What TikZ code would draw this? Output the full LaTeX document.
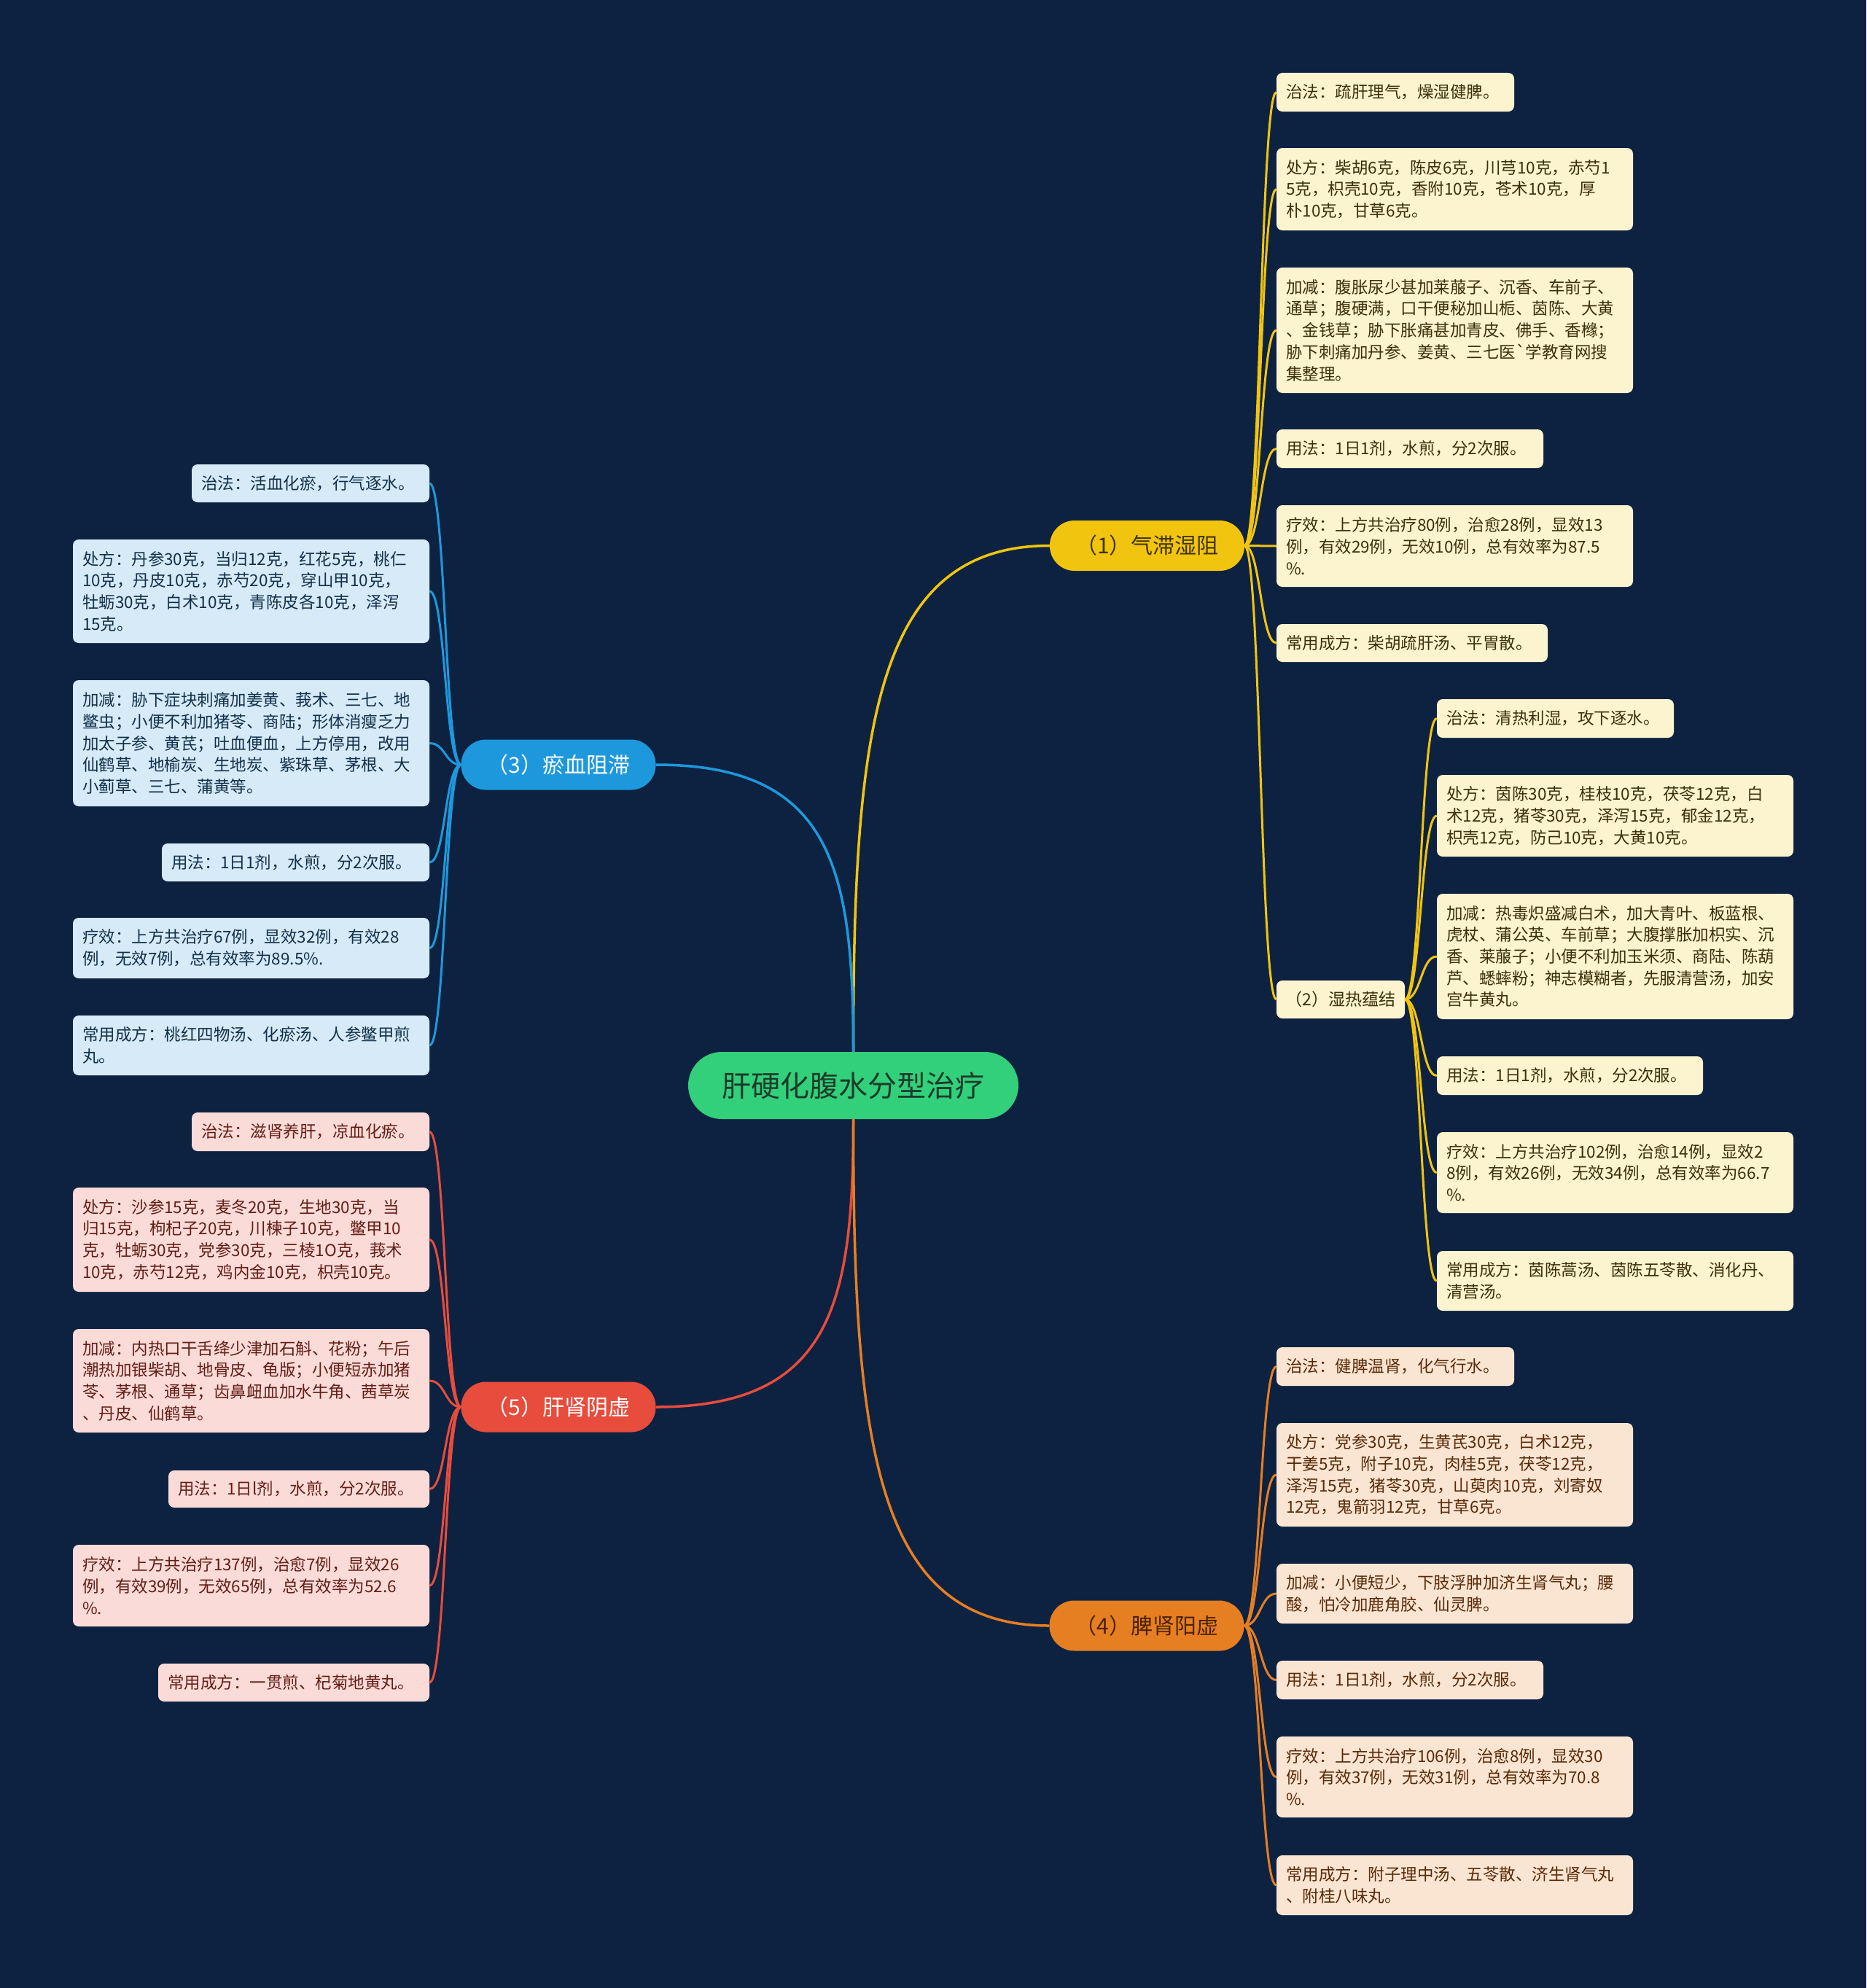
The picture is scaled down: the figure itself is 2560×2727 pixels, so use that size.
\documentclass[tikz,border=0pt]{standalone}
\usepackage{fontspec}
\usetikzlibrary{calc}
\newfontfamily\cjk{Noto Sans CJK SC}
\definecolor{bg}{HTML}{0D2240}
\definecolor{cRoot}{HTML}{32D07B}
\definecolor{cY}{HTML}{F1C40F}
\definecolor{cB}{HTML}{1E98DD}
\definecolor{cR}{HTML}{E74C3C}
\definecolor{cO}{HTML}{E67E22}
\definecolor{lY}{HTML}{FCF3CF}
\definecolor{lB}{HTML}{D6EAF8}
\definecolor{lR}{HTML}{FADBD8}
\definecolor{lO}{HTML}{FAE5D3}
\definecolor{tY}{HTML}{3B3008}
\definecolor{tB}{HTML}{12304A}
\definecolor{tR}{HTML}{641E16}
\definecolor{tO}{HTML}{5A2A08}
\definecolor{tRoot}{HTML}{1D3B2A}
\definecolor{tYb}{HTML}{3F3300}
\definecolor{tOb}{HTML}{4A2300}
\tikzset{
  leafbase/.style={rectangle, rounded corners=8pt, inner xsep=13pt, inner ysep=0pt, align=left, font=\cjk\fontsize{22.5}{29.7}\selectfont},
  leafY/.style={leafbase, fill=lY, text=tY},
  leafB/.style={leafbase, fill=lB, text=tB},
  leafR/.style={leafbase, fill=lR, text=tR},
  leafO/.style={leafbase, fill=lO, text=tO},
  branchbox/.style={rectangle, rounded corners=34pt, minimum width=267pt, minimum height=69pt, inner sep=0pt, font=\cjk\fontsize{30}{36}\selectfont},
  rootbox/.style={rectangle, rounded corners=46pt, minimum width=453pt, minimum height=92pt, inner sep=0pt, fill=cRoot, text=tRoot, font=\cjk\fontsize{40}{46}\selectfont},
  leaflink/.style={line width=3pt},
  rootlink/.style={line width=3.5pt},
}
\newcommand\leafnode[7]{%
  \pgfmathsetmacro\lfw{#5-#3}%
  \pgfmathsetmacro\lfh{#6-#4}%
  \pgfmathsetmacro\lft{#5-#3-26}%
  \pgfmathsetmacro\lfx{(#3+#5)/2}%
  \pgfmathsetmacro\lfy{(#4+#6)/2}%
  \node[#2,minimum width=\lfw pt,minimum height=\lfh pt,text width=\lft pt] (#1) at (\lfx,\lfy) {#7};}
\newcommand\linkR[3]{\draw[leaflink,#1] (#2.east) .. controls ($(#2.east)+(22,0)$) and ($(#3.west)+(-22,0)$) .. (#3.west);}
\newcommand\linkL[3]{\draw[leaflink,#1] (#2.west) .. controls ($(#2.west)+(-22,0)$) and ($(#3.east)+(22,0)$) .. (#3.east);}
\begin{document}
\begin{tikzpicture}[x=1pt,y=-1pt]
\useasboundingbox (0,0) rectangle (2560,2727);
\fill[bg] (0,0) rectangle (2560,2727);

% root and main branches
\node[rootbox] (root) at (1170.5,1489) {肝硬化腹水分型治疗};
\node[branchbox, fill=cY, text=tYb] (b1) at (1573.5,748.5) {（1）气滞湿阻};
\node[branchbox, fill=cB, text=white] (b3) at (766,1049) {（3）瘀血阻滞};
\node[branchbox, fill=cR, text=white] (b5) at (766,1930) {（5）肝肾阴虚};
\node[branchbox, fill=cO, text=tOb] (b4) at (1573,2230) {（4）脾肾阳虚};
\node[leafY, align=center, inner xsep=0pt, minimum width=176pt, minimum height=52pt, font=\cjk\fontsize{23}{28}\selectfont] (b2) at (1839,1371) {（2）湿热蕴结};

% (1) leaves
\leafnode{a1}{leafY}{1751}{100}{2077}{153}{治法：疏肝理气，燥湿健脾。}
\leafnode{a2}{leafY}{1751}{203}{2240}{316}{处方：柴胡6克，陈皮6克，川芎10克，赤芍1\\5克，枳壳10克，香附10克，苍术10克，厚\\朴10克，甘草6克。}
\leafnode{a3}{leafY}{1751}{367}{2240}{539}{加减：腹胀尿少甚加莱菔子、沉香、车前子、\\通草；腹硬满，口干便秘加山栀、茵陈、大黄\\、金钱草；胁下胀痛甚加青皮、佛手、香橼；\\胁下刺痛加丹参、姜黄、三七医`学教育网搜\\集整理。}
\leafnode{a4}{leafY}{1751}{589}{2117}{642}{用法：1日1剂，水煎，分2次服。}
\leafnode{a5}{leafY}{1751}{693}{2240}{805}{疗效：上方共治疗80例，治愈28例，显效13\\例，有效29例，无效10例，总有效率为87.5\\\%.}
\leafnode{a6}{leafY}{1751}{856}{2123}{908}{常用成方：柴胡疏肝汤、平胃散。}

% (2) leaves
\leafnode{c1}{leafY}{1971}{959}{2296}{1012}{治法：清热利湿，攻下逐水。}
\leafnode{c2}{leafY}{1971}{1063}{2460}{1175}{处方：茵陈30克，桂枝10克，茯苓12克，白\\术12克，猪苓30克，泽泻15克，郁金12克，\\枳壳12克，防己10克，大黄10克。}
\leafnode{c3}{leafY}{1971}{1226}{2460}{1398}{加减：热毒炽盛减白术，加大青叶、板蓝根、\\虎杖、蒲公英、车前草；大腹撑胀加枳实、沉\\香、莱菔子；小便不利加玉米须、商陆、陈葫\\芦、蟋蟀粉；神志模糊者，先服清营汤，加安\\宫牛黄丸。}
\leafnode{c4}{leafY}{1971}{1449}{2336}{1502}{用法：1日1剂，水煎，分2次服。}
\leafnode{c5}{leafY}{1971}{1553}{2460}{1664}{疗效：上方共治疗102例，治愈14例，显效2\\8例，有效26例，无效34例，总有效率为66.7\\\%.}
\leafnode{c6}{leafY}{1971}{1716}{2460}{1798}{常用成方：茵陈蒿汤、茵陈五苓散、消化丹、\\清营汤。}

% (4) leaves
\leafnode{d1}{leafO}{1751}{1848}{2077}{1901}{治法：健脾温肾，化气行水。}
\leafnode{d2}{leafO}{1751}{1952}{2240}{2094}{处方：党参30克，生黄芪30克，白术12克，\\干姜5克，附子10克，肉桂5克，茯苓12克，\\泽泻15克，猪苓30克，山萸肉10克，刘寄奴\\12克，鬼箭羽12克，甘草6克。}
\leafnode{d3}{leafO}{1751}{2145}{2240}{2227}{加减：小便短少，下肢浮肿加济生肾气丸；腰\\酸，怕冷加鹿角胶、仙灵脾。}
\leafnode{d4}{leafO}{1751}{2278}{2117}{2331}{用法：1日1剂，水煎，分2次服。}
\leafnode{d5}{leafO}{1751}{2382}{2240}{2493}{疗效：上方共治疗106例，治愈8例，显效30\\例，有效37例，无效31例，总有效率为70.8\\\%.}
\leafnode{d6}{leafO}{1751}{2545}{2240}{2627}{常用成方：附子理中汤、五苓散、济生肾气丸\\、附桂八味丸。}

% (3) leaves
\leafnode{e1}{leafB}{263}{637}{589}{689}{治法：活血化瘀，行气逐水。}
\leafnode{e2}{leafB}{100}{740}{589}{882}{处方：丹参30克，当归12克，红花5克，桃仁\\10克，丹皮10克，赤芍20克，穿山甲10克，\\牡蛎30克，白术10克，青陈皮各10克，泽泻\\15克。}
\leafnode{e3}{leafB}{100}{933}{589}{1106}{加减：胁下症块刺痛加姜黄、莪术、三七、地\\鳖虫；小便不利加猪苓、商陆；形体消瘦乏力\\加太子参、黄芪；吐血便血，上方停用，改用\\仙鹤草、地榆炭、生地炭、紫珠草、茅根、大\\小蓟草、三七、蒲黄等。}
\leafnode{e4}{leafB}{222}{1157}{589}{1209}{用法：1日1剂，水煎，分2次服。}
\leafnode{e5}{leafB}{100}{1259}{589}{1342}{疗效：上方共治疗67例，显效32例，有效28\\例，无效7例，总有效率为89.5\%.}
\leafnode{e6}{leafB}{100}{1393}{589}{1475}{常用成方：桃红四物汤、化瘀汤、人参鳖甲煎\\丸。}

% (5) leaves
\leafnode{f1}{leafR}{263}{1526}{589}{1579}{治法：滋肾养肝，凉血化瘀。}
\leafnode{f2}{leafR}{100}{1629}{589}{1772}{处方：沙参15克，麦冬20克，生地30克，当\\归15克，枸杞子20克，川楝子10克，鳖甲10\\克，牡蛎30克，党参30克，三棱1O克，莪术\\10克，赤芍12克，鸡内金10克，枳壳10克。}
\leafnode{f3}{leafR}{100}{1823}{589}{1965}{加减：内热口干舌绛少津加石斛、花粉；午后\\潮热加银柴胡、地骨皮、龟版；小便短赤加猪\\苓、茅根、通草；齿鼻衄血加水牛角、茜草炭\\、丹皮、仙鹤草。}
\leafnode{f4}{leafR}{231}{2017}{589}{2068}{用法：1日l剂，水煎，分2次服。}
\leafnode{f5}{leafR}{100}{2119}{589}{2231}{疗效：上方共治疗137例，治愈7例，显效26\\例，有效39例，无效65例，总有效率为52.6\\\%.}
\leafnode{f6}{leafR}{217}{2282}{589}{2334}{常用成方：一贯煎、杞菊地黄丸。}

% root connectors
\draw[rootlink,cY] (root.north) .. controls ($(root.north)+(0,-444)$) and ($(b1.west)+(-240,0)$) .. (b1.west);
\draw[rootlink,cB] (root.north) .. controls ($(root.north)+(0,-252)$) and ($(b3.east)+(241,0)$) .. (b3.east);
\draw[rootlink,cR] (root.south) .. controls ($(root.south)+(0,253)$) and ($(b5.east)+(241,0)$) .. (b5.east);
\draw[rootlink,cO] (root.south) .. controls ($(root.south)+(0,445)$) and ($(b4.west)+(-240,0)$) .. (b4.west);

% branch connectors
\foreach \n in {a1,a2,a3,a4,a5,a6,b2}{\linkR{cY}{b1}{\n}}
\foreach \n in {c1,c2,c3,c4,c5,c6}{\linkR{cY}{b2}{\n}}
\foreach \n in {d1,d2,d3,d4,d5,d6}{\linkR{cO}{b4}{\n}}
\foreach \n in {e1,e2,e3,e4,e5,e6}{\linkL{cB}{b3}{\n}}
\foreach \n in {f1,f2,f3,f4,f5,f6}{\linkL{cR}{b5}{\n}}
\end{tikzpicture}
\end{document}
